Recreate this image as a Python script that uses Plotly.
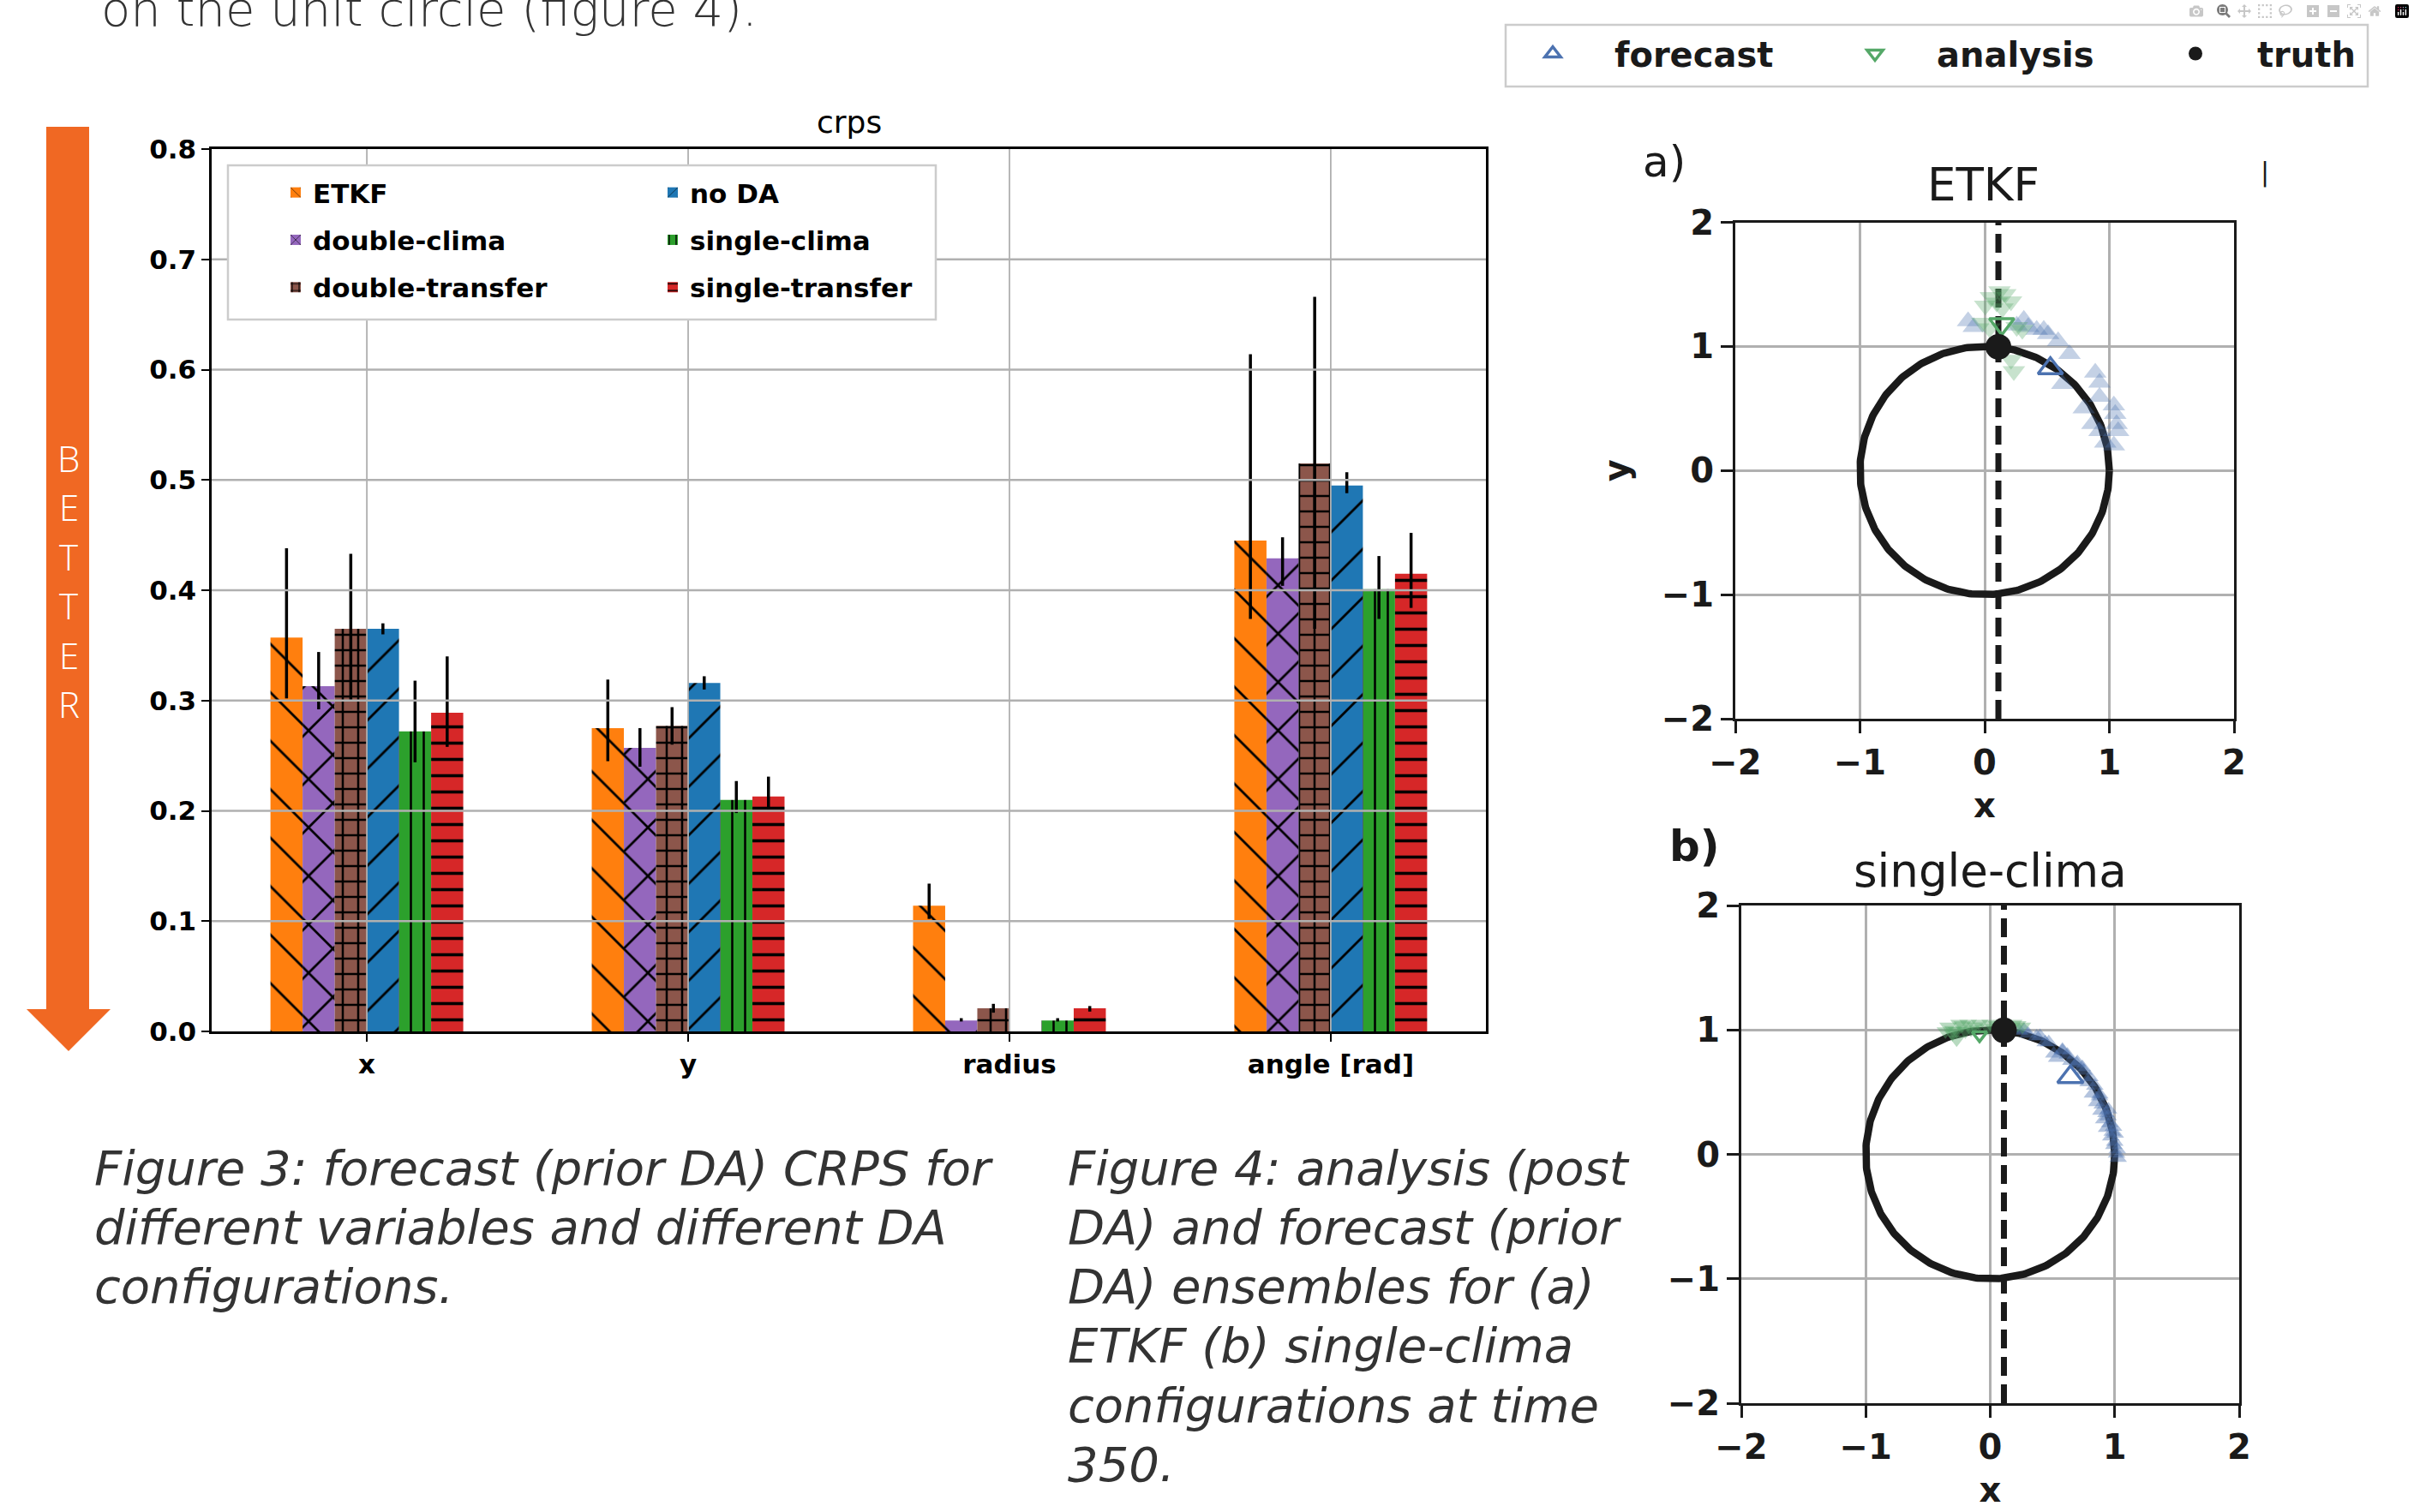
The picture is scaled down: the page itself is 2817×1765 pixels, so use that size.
import numpy as np
import plotly.graph_objects as go

W, H = 2817, 1765


def fx(p):
    return p / W


def fy(p):
    return 1 - p / H


# ---------------- Figure 3 data: forecast CRPS ----------------
categories = ["x", "y", "radius", "angle [rad]"]
configs = ["ETKF", "double-clima", "double-transfer", "no DA", "single-clima", "single-transfer"]

crps_ETKF = [0.357, 0.275, 0.114, 0.445]
crps_double_clima = [0.313, 0.257, 0.010, 0.429]
crps_double_transfer = [0.365, 0.277, 0.021, 0.515]
crps_no_DA = [0.365, 0.316, None, 0.495]
crps_single_clima = [0.272, 0.210, 0.010, 0.401]
crps_single_transfer = [0.289, 0.213, 0.021, 0.415]

# error-bar upper / lower ends
hi_ETKF = [0.438, 0.319, 0.134, 0.614]
lo_ETKF = [0.302, 0.245, 0.102, 0.374]
hi_double_clima = [0.344, 0.275, 0.012, 0.448]
lo_double_clima = [0.292, 0.240, 0.009, 0.404]
hi_double_transfer = [0.433, 0.294, 0.025, 0.666]
lo_double_transfer = [0.300, 0.260, 0.017, 0.365]
hi_no_DA = [0.370, 0.322, None, 0.507]
lo_no_DA = [0.360, 0.310, None, 0.488]
hi_single_clima = [0.318, 0.227, 0.012, 0.431]
lo_single_clima = [0.244, 0.198, 0.009, 0.374]
hi_single_transfer = [0.340, 0.231, 0.023, 0.452]
lo_single_transfer = [0.258, 0.201, 0.018, 0.384]

crps_yticks = [0.0, 0.1, 0.2, 0.3, 0.4, 0.5, 0.6, 0.7, 0.8]

# ---------------- Figure 4 data: ensembles on the unit circle ----------------
truth_x = [0.11]
truth_y = [0.996]

# (a) ETKF
etkf_fc_x = [-0.133, -0.087, 0.314, 0.417, 0.474, 0.509, 0.589, 0.680, 0.623, 0.887, 0.921, 0.921,
             0.795, 1.036, 1.047, 0.864, 1.058, 0.921, 1.070, 0.967, 1.036, 0.257, 0.349]
etkf_fc_y = [1.203, 1.157, 1.215, 1.134, 1.134, 1.099, 1.042, 0.939, 0.697, 0.789, 0.708, 0.593,
             0.501, 0.525, 0.455, 0.375, 0.375, 0.318, 0.318, 0.225, 0.202, 1.168, 1.157]
etkf_an_x = [0.119, 0.050, 0.211, 0.005, 0.142, -0.018, 0.039, 0.257, 0.302, 0.211, 0.234, 0.165, 0.096]
etkf_an_y = [1.444, 1.398, 1.364, 1.329, 1.306, 1.191, 1.146, 1.157, 1.134, 0.892, 0.801, 1.422, 1.353]
etkf_fc_mean_x = [0.527]
etkf_fc_mean_y = [0.823]
etkf_an_mean_x = [0.137]
etkf_an_mean_y = [1.18]

# (b) single-clima
sc_fc_x = [0.235, 0.304, 0.373, 0.442, 0.511, 0.534, 0.694, 0.752, 0.786, 0.821, 0.855, 0.889,
           0.912, 0.935, 0.969, 0.993, 1.015, 1.027, 0.648, 0.878, 0.947, 1.004, 0.580,
           0.27, 0.40, 0.47, 0.58, 0.62, 0.70, 0.74, 0.80, 0.84, 0.88, 0.90, 0.93, 0.96, 0.98,
           1.00, 1.02, 0.95, 0.99]
sc_fc_y = [0.992, 0.969, 0.946, 0.900, 0.809, 0.774, 0.728, 0.671, 0.579, 0.487, 0.418, 0.349,
           0.280, 0.212, 0.143, 0.074, 0.005, -0.030, 0.751, 0.464, 0.304, 0.166, 0.831,
           1.00, 0.95, 0.90, 0.84, 0.80, 0.74, 0.70, 0.62, 0.55, 0.48, 0.40, 0.33, 0.25, 0.18,
           0.10, 0.04, 0.36, 0.22]
sc_an_x = [-0.339, -0.270, -0.224, -0.155, -0.086, -0.017, 0.052, 0.189, 0.258, -0.270, -0.304, -0.178,
           -0.30, -0.20, -0.12, 0.00, 0.10, 0.22, -0.36, -0.25]
sc_an_y = [1.027, 0.992, 1.038, 1.003, 1.050, 1.015, 1.038, 1.050, 1.027, 0.924, 0.969, 1.050,
           1.00, 0.99, 1.03, 1.05, 1.04, 1.04, 0.99, 1.05]
sc_fc_mean_x = [0.644]
sc_fc_mean_y = [0.621]
sc_an_mean_x = [-0.086]
sc_an_mean_y = [0.958]

panel_ticks = [-2, -1, 0, 1, 2]
circle_radius = 1.0

# ---------------- captions ----------------
intro_line = "on the unit circle (figure 4)."
caption3_lines = ["Figure 3: forecast (prior DA) CRPS for", "different variables and different DA", "configurations."]
caption4_lines = ["Figure 4: analysis (post", "DA) and forecast (prior", "DA) ensembles for (a)",
                  "ETKF (b) single-clima", "configurations at time", "350."]

# ---------------- styles ----------------
bar_colors = ["#ff7f0e", "#9467bd", "#8c564b", "#1f77b4", "#2ca02c", "#d62728"]
hatch_shape = ["\\", "x", "+", "/", "|", "-"]
hatch_size = [40, 40, 18, 40, 15, 19]
hatch_solid = [0.07, 0.13, 0.26, 0.07, 0.17, 0.19]
bar_legend = ["legend", "legend", "legend", "legend2", "legend2", "legend2"]

FC_COL = "#4c72b0"
AN_COL = "#55a868"
INK = "#1a1a1a"
BAR_FONT = "DejaVu Sans"
CAP_FONT = "DejaVu Sans"
LETTER_FONT = "Open Sans"

crps_vals = [crps_ETKF, crps_double_clima, crps_double_transfer, crps_no_DA, crps_single_clima, crps_single_transfer]
crps_hi = [hi_ETKF, hi_double_clima, hi_double_transfer, hi_no_DA, hi_single_clima, hi_single_transfer]
crps_lo = [lo_ETKF, lo_double_clima, lo_double_transfer, lo_no_DA, lo_single_clima, lo_single_transfer]

fig = go.Figure()

for i, name in enumerate(configs):
    vals = crps_vals[i]
    plus = [(h - v) if v is not None else 0 for v, h in zip(vals, crps_hi[i])]
    minus = [(v - l) if v is not None else 0 for v, l in zip(vals, crps_lo[i])]
    fig.add_trace(go.Bar(
        x=categories, y=vals, name=name,
        xaxis="x", yaxis="y",
        legend=bar_legend[i], legendgroup=name,
        marker=dict(
            color=bar_colors[i], line=dict(width=0),
            pattern=dict(shape=hatch_shape[i], size=hatch_size[i], solidity=hatch_solid[i],
                         fgcolor="black", bgcolor=bar_colors[i], fillmode="replace"),
        ),
        error_y=dict(type="data", symmetric=False, array=plus, arrayminus=minus,
                     color="black", thickness=3.5, width=0),
    ))

# ---------------- panels ----------------
theta = np.linspace(0, 2 * np.pi, 361)
circ_x = circle_radius * np.cos(theta)
circ_y = circle_radius * np.sin(theta)

panels = [
    dict(xa="x2", ya="y2", fcx=etkf_fc_x, fcy=etkf_fc_y, anx=etkf_an_x, any=etkf_an_y,
         fmx=etkf_fc_mean_x, fmy=etkf_fc_mean_y, amx=etkf_an_mean_x, amy=etkf_an_mean_y,
         ms=23, op=0.33, mms=25, ams=25, leg=True),
    dict(xa="x3", ya="y3", fcx=sc_fc_x, fcy=sc_fc_y, anx=sc_an_x, any=sc_an_y,
         fmx=sc_fc_mean_x, fmy=sc_fc_mean_y, amx=sc_an_mean_x, amy=sc_an_mean_y,
         ms=18, op=0.42, mms=26, ams=15, leg=False),
]
panel_legends = ["legend3", "legend4", "legend5"]

for p in panels:
    fig.add_trace(go.Scatter(x=circ_x, y=circ_y, mode="lines", line=dict(color=INK, width=8.5),
                             xaxis=p["xa"], yaxis=p["ya"], showlegend=False, hoverinfo="skip"))
    fig.add_trace(go.Scatter(x=[truth_x[0], truth_x[0]], y=[panel_ticks[0], panel_ticks[-1]], mode="lines",
                             line=dict(color=INK, width=7, dash="22px,10px"),
                             xaxis=p["xa"], yaxis=p["ya"], showlegend=False, hoverinfo="skip"))
    fig.add_trace(go.Scatter(x=p["fcx"], y=p["fcy"], mode="markers",
                             marker=dict(symbol="triangle-up", size=p["ms"], color=FC_COL, opacity=p["op"],
                                         line=dict(width=0)),
                             xaxis=p["xa"], yaxis=p["ya"], showlegend=False))
    fig.add_trace(go.Scatter(x=p["anx"], y=p["any"], mode="markers",
                             marker=dict(symbol="triangle-down", size=p["ms"], color=AN_COL, opacity=p["op"],
                                         line=dict(width=0)),
                             xaxis=p["xa"], yaxis=p["ya"], showlegend=False))
    fig.add_trace(go.Scatter(x=p["fmx"], y=p["fmy"], mode="markers", name="forecast",
                             marker=dict(symbol="triangle-up-open", size=p["mms"], color=FC_COL,
                                         line=dict(width=3.5, color=FC_COL)),
                             xaxis=p["xa"], yaxis=p["ya"], showlegend=p["leg"], legend=panel_legends[0]))
    fig.add_trace(go.Scatter(x=p["amx"], y=p["amy"], mode="markers", name="analysis",
                             marker=dict(symbol="triangle-down-open", size=p["ams"], color=AN_COL,
                                         line=dict(width=3.5, color=AN_COL)),
                             xaxis=p["xa"], yaxis=p["ya"], showlegend=p["leg"], legend=panel_legends[1]))
    fig.add_trace(go.Scatter(x=truth_x, y=truth_y, mode="markers", name="truth",
                             marker=dict(symbol="circle", size=30, color=INK),
                             xaxis=p["xa"], yaxis=p["ya"], showlegend=p["leg"], legend=panel_legends[2]))

# ---------------- axes ----------------
bar_tick_font = dict(family=BAR_FONT, size=31, color="black", weight="bold")
panel_tick_font = dict(family=BAR_FONT, size=40, color=INK, weight="bold")

common_panel_axis = dict(
    range=[-2, 2], tickvals=panel_ticks, ticks="outside", ticklen=14, tickwidth=3, tickcolor=INK,
    showline=True, mirror=True, linecolor=INK, linewidth=3, showgrid=True, gridcolor="#b0b0b0",
    gridwidth=2.5, zeroline=False, tickfont=panel_tick_font, automargin=False,
)

legend_font_bar = dict(family=BAR_FONT, size=31, color="black", weight="bold")
legend_font_panel = dict(family=BAR_FONT, size=40, color=INK, weight="bold")
panel_leg_common = dict(xanchor="left", yanchor="top", orientation="h", bgcolor="rgba(0,0,0,0)",
                        borderwidth=0, itemwidth=134, font=legend_font_panel)

fig.update_layout(
    width=W, height=H,
    margin=dict(l=0, r=0, t=0, b=0, autoexpand=False),
    paper_bgcolor="white", plot_bgcolor="white",
    barmode="group", bargap=0.4, bargroupgap=0,
    showlegend=True,
    xaxis=dict(domain=[fx(247), fx(1734)], anchor="y", type="category", range=[-0.483, 3.483],
               ticks="outside", ticklen=9, tickwidth=2, tickcolor="black",
               showline=True, mirror=True, linecolor="black", linewidth=2.5, showgrid=False,
               tickfont=bar_tick_font, automargin=False),
    yaxis=dict(domain=[fy(1204), fy(174)], anchor="x", range=[0, 0.8], tickvals=crps_yticks,
               tickformat=".1f", ticks="outside", ticklen=9, tickwidth=2, tickcolor="black",
               showline=True, mirror=True, linecolor="black", linewidth=2.5, showgrid=False,
               zeroline=False, tickfont=bar_tick_font, automargin=False),
    xaxis2=dict(domain=[fx(2025), fx(2607)], anchor="y2",
                title=dict(text="x", font=panel_tick_font, standoff=14), **common_panel_axis),
    yaxis2=dict(domain=[fy(839), fy(259.5)], anchor="x2",
                title=dict(text="y", font=panel_tick_font, standoff=26), **common_panel_axis),
    xaxis3=dict(domain=[fx(2032), fx(2613)], anchor="y3",
                title=dict(text="x", font=panel_tick_font, standoff=14), **common_panel_axis),
    yaxis3=dict(domain=[fy(1638), fy(1057)], anchor="x3", **common_panel_axis),
    # stray detached tick marks at the right of the panels
    yaxis4=dict(overlaying="y2", anchor="free", position=fx(2626), side="right", range=[-2, 2],
                tickvals=[-1, -2], ticks="outside", ticklen=19, tickwidth=4, tickcolor=INK,
                showticklabels=False, showline=False, showgrid=False, zeroline=False, automargin=False),
    yaxis5=dict(overlaying="y3", anchor="free", position=fx(2636), side="right", range=[-2, 2],
                tickvals=[-1, -2], ticks="outside", ticklen=16, tickwidth=4, tickcolor=INK,
                showticklabels=False, showline=False, showgrid=False, zeroline=False, automargin=False),
    legend=dict(x=fx(325), y=fy(198), xanchor="left", yanchor="top", orientation="v",
                bgcolor="rgba(0,0,0,0)", borderwidth=0, traceorder="grouped", tracegroupgap=12,
                font=legend_font_bar),
    legend2=dict(x=fx(765), y=fy(198), xanchor="left", yanchor="top", orientation="v",
                 bgcolor="rgba(0,0,0,0)", borderwidth=0, traceorder="grouped", tracegroupgap=12,
                 font=legend_font_bar),
    legend3=dict(x=fx(1740), y=fy(30), **panel_leg_common),
    legend4=dict(x=fx(2116), y=fy(30), **panel_leg_common),
    legend5=dict(x=fx(2490), y=fy(30), **panel_leg_common),
)

# ---------------- shapes ----------------
shapes = []
# orange BETTER arrow
arrow_pts = [(54, 148), (104, 148), (104, 1178), (129, 1178), (80, 1227), (31, 1178), (54, 1178)]
path = "M " + " L ".join(f"{fx(a):.5f},{fy(b):.5f}" for a, b in arrow_pts) + " Z"
shapes.append(dict(type="path", path=path, xref="paper", yref="paper",
                   fillcolor="#f06823", line=dict(width=0), layer="above"))
# bar-chart grid lines drawn above the bars (as matplotlib does)
for v in crps_yticks[1:-1]:
    shapes.append(dict(type="line", xref="x domain", yref="y", x0=0, x1=1, y0=v, y1=v,
                       line=dict(color="#b0b0b0", width=2.5), layer="above"))
for c in categories:
    shapes.append(dict(type="line", xref="x", yref="y domain", x0=c, x1=c, y0=0, y1=1,
                       line=dict(color="#b0b0b0", width=1.8), layer="above"))
# legend frames
shapes.append(dict(type="rect", xref="paper", yref="paper", x0=fx(266), x1=fx(1092), y0=fy(373), y1=fy(193),
                   fillcolor="white", line=dict(color="#cccccc", width=2.5), layer="above"))
shapes.append(dict(type="rect", xref="paper", yref="paper", x0=fx(1757), x1=fx(2763), y0=fy(101), y1=fy(29),
                   fillcolor="white", line=dict(color="#cccccc", width=2.5), layer="above"))
fig.update_layout(shapes=shapes)

# ---------------- text ----------------
CAP_SIZE = 56
cap_font = dict(family=CAP_FONT, size=CAP_SIZE, color="#333333", weight=300, style="italic")
LINE_STEP = 69.3
FIRST_CENTER = 1363
ann = []
ann.append(dict(text=intro_line, x=fx(116), y=fy(10.5), xanchor="left", yanchor="middle",
                font=dict(family=CAP_FONT, size=CAP_SIZE, color="#333333", weight=300)))
for col_x, lines in ((108, caption3_lines), (1244, caption4_lines)):
    for k, line in enumerate(lines):
        ann.append(dict(text=line, x=fx(col_x), y=fy(FIRST_CENTER + LINE_STEP * k),
                        xanchor="left", yanchor="middle", font=cap_font))
ann.append(dict(text="crps", x=fx(991), y=fy(143), xanchor="center", yanchor="middle",
                font=dict(family=BAR_FONT, size=36, color="black")))
for k, ch in enumerate("BETTER"):
    ann.append(dict(text=ch, x=fx(80), y=fy(534 + 57.5 * k), xanchor="center", yanchor="middle",
                    font=dict(family=LETTER_FONT, size=42, color="white", weight=300)))
ann.append(dict(text="a)", x=fx(1942), y=fy(189), xanchor="center", yanchor="middle",
                font=dict(family=BAR_FONT, size=50, color=INK)))
ann.append(dict(text="b)", x=fx(1978), y=fy(988), xanchor="center", yanchor="middle",
                font=dict(family=BAR_FONT, size=50, color=INK, weight="bold")))
ann.append(dict(text="ETKF", x=fx(2314), y=fy(215), xanchor="center", yanchor="middle",
                font=dict(family=BAR_FONT, size=53, color=INK)))
ann.append(dict(text="single-clima", x=fx(2322), y=fy(1016), xanchor="center", yanchor="middle",
                font=dict(family=BAR_FONT, size=53, color=INK)))
ann.append(dict(text="|", x=fx(2643), y=fy(201), xanchor="center", yanchor="middle",
                font=dict(family=BAR_FONT, size=30, color=INK)))
for a in ann:
    a.update(xref="paper", yref="paper", showarrow=False)
fig.update_layout(annotations=ann)

fig.write_html("out.html", post_script="document.body.style.margin='0';document.body.style.overflow='hidden';")
